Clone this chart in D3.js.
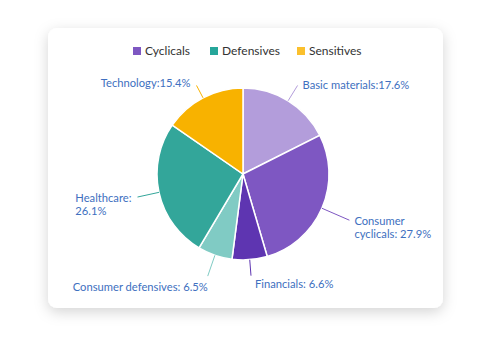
<!DOCTYPE html>
<html>
<head>
<meta charset="utf-8">
<script src="https://cdn.jsdelivr.net/npm/d3@7"></script>
<style>
  html, body { margin: 0; padding: 0; background: #ffffff; }
  svg { display: block; font-family: Lato, "Open Sans", sans-serif; }
</style>
</head>
<body>
<svg id="chart" width="500" height="350"></svg>
<script>
// Sector weights, clockwise from 12 o'clock
const sectors = ["Basic materials", "Consumer cyclicals", "Financials", "Consumer defensives", "Healthcare", "Technology"];
const weights = [17.6, 27.9, 6.6, 6.5, 26.1, 15.4];
const sectorLabels = [
  ["Basic materials:17.6%"],
  ["Consumer", "cyclicals: 27.9%"],
  ["Financials: 6.6%"],
  ["Consumer defensives: 6.5%"],
  ["Healthcare:", "26.1%"],
  ["Technology:15.4%"]
];
const sectorColors = ["#b39ddb", "#7e57c2", "#5e35b1", "#80cbc4", "#33a69a", "#f8b200"];

// Legend groups
const groups = ["Cyclicals", "Defensives", "Sensitives"];
const groupColors = ["#7e57c2", "#26a69a", "#fbc02d"];

const svg = d3.select("#chart");

// Card with soft shadow
const defs = svg.append("defs");
const f = defs.append("filter").attr("id", "cardShadow")
  .attr("x", "-20%").attr("y", "-20%").attr("width", "140%").attr("height", "150%");
f.append("feDropShadow").attr("dx", 0).attr("dy", 4).attr("stdDeviation", 7)
  .attr("flood-color", "#000").attr("flood-opacity", 0.17);

svg.append("rect")
  .attr("x", 48).attr("y", 28).attr("width", 395).attr("height", 280)
  .attr("rx", 9).attr("ry", 9)
  .attr("fill", "#fff")
  .attr("filter", "url(#cardShadow)");

// Legend
const legend = svg.append("g").attr("transform", "translate(0,51)");
const legendX = [133, 210, 297];
groups.forEach((name, i) => {
  const item = legend.append("g").attr("transform", `translate(${legendX[i]},0)`);
  item.append("rect").attr("x", 0).attr("y", -4).attr("width", 8).attr("height", 8)
    .attr("fill", groupColors[i]);
  item.append("text").attr("x", 12).attr("y", 0).attr("dy", "0.35em")
    .attr("font-size", 12).attr("fill", "#333")
    .text(name);
});

// Pie
const cx = 243, cy = 174, r = 86;
const pie = d3.pie().sort(null).value(d => d)(weights);
const arc = d3.arc().innerRadius(0).outerRadius(r);

const g = svg.append("g").attr("transform", `translate(${cx},${cy})`);

g.selectAll("path.slice")
  .data(pie)
  .join("path")
  .attr("class", "slice")
  .attr("d", arc)
  .attr("fill", (d, i) => sectorColors[i])
  .attr("stroke", "#fff")
  .attr("stroke-width", 1.5);

// Leader lines and labels
const lineLen = [18, 30, 16, 22, 22, 14];
const labelColor = "#4070c0";
const fontSize = 11.2;
const lineH = 13;

pie.forEach((d, i) => {
  const a = (d.startAngle + d.endAngle) / 2;
  const p0 = [Math.sin(a) * r, -Math.cos(a) * r];
  const r1 = r + lineLen[i];
  const p1 = [Math.sin(a) * r1, -Math.cos(a) * r1];
  g.append("line")
    .attr("x1", p0[0]).attr("y1", p0[1])
    .attr("x2", p1[0]).attr("y2", p1[1])
    .attr("stroke", sectorColors[i])
    .attr("stroke-width", 1);

  const right = Math.sin(a) > 0;
  const below = Math.cos(a) < -0.9;
  const lines = sectorLabels[i];
  const t = g.append("text")
    .attr("font-size", fontSize)
    .attr("fill", labelColor);
  lines.forEach((s, k) => {
    t.append("tspan").attr("x", 0).attr("y", k * lineH).text(s);
  });
  // widest line, to left-align multi-line blocks on the left side
  let maxW = 0;
  t.selectAll("tspan").each(function () { maxW = Math.max(maxW, this.getComputedTextLength()); });

  let tx, ty;
  if (below) {
    // under the line end
    tx = right ? p1[0] + 4 : p1[0] - maxW;
    ty = p1[1] + (right ? 7 : 10);
  } else if (right) {
    tx = p1[0] + 5;
    ty = p1[1] + (lines.length > 1 ? 0 : -1);
  } else {
    tx = p1[0] - 6 - maxW;
    ty = p1[1] + (lines.length > 1 ? 0 : -3);
  }
  t.attr("transform", `translate(${tx},${ty})`)
    .attr("dominant-baseline", "central");
  t.selectAll("tspan").attr("dominant-baseline", "central");
});
</script>
</body>
</html>
